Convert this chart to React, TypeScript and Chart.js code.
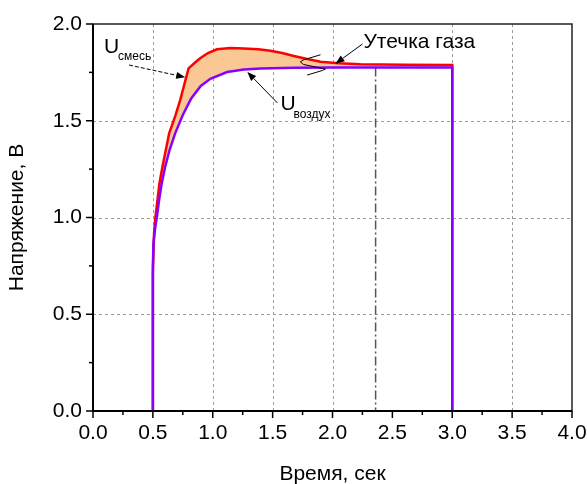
import React, { useEffect, useRef } from 'react';
import { Chart, registerables } from 'chart.js';

Chart.register(...registerables);

// ---- data ----
const airX = [0.5, 0.5, 0.505, 0.52, 0.533, 0.552, 0.575, 0.603, 0.64, 0.686, 0.75, 0.82, 0.9, 0.98, 1.12, 1.26, 1.4, 1.68, 2.0, 2.5, 3.0, 3.0];
const airY = [0, 0.75, 0.87, 0.95, 1.0, 1.09, 1.18, 1.263, 1.35, 1.435, 1.53, 1.615, 1.68, 1.717, 1.752, 1.765, 1.77, 1.774, 1.775, 1.775, 1.775, 0];

const mixX = [0.5, 0.5, 0.51, 0.521, 0.555, 0.58, 0.636, 0.69, 0.728, 0.798, 0.85, 0.895, 0.96, 1.035, 1.15, 1.258, 1.38, 1.481, 1.58, 1.676, 1.78, 1.9, 2.05, 2.234, 2.6, 3.0, 3.0];
const mixY = [0, 0.71, 0.92, 1.0, 1.177, 1.263, 1.435, 1.53, 1.607, 1.771, 1.8, 1.823, 1.85, 1.869, 1.876, 1.874, 1.87, 1.862, 1.85, 1.835, 1.82, 1.805, 1.797, 1.792, 1.79, 1.788, 0];

const xMajor = [0, 0.5, 1.0, 1.5, 2.0, 2.5, 3.0, 3.5, 4.0];
const xMinor = [0.25, 0.75, 1.25, 1.75, 2.25, 2.75, 3.25, 3.75];
const yMajor = [0, 0.5, 1.0, 1.5, 2.0];
const yMinor = [0.25, 0.75, 1.25, 1.75];
const xGrid = [0.5, 1.0, 1.5, 2.0, 3.0, 3.5];
const yGrid = [0.5, 1.0, 1.5];

const leakX = 2.36;
const leakTop = 1.775;

const xTitle = 'Время, сек';
const yTitle = 'Напряжение, В';

// annotations in data coordinates
const mixLabel = { main: 'U', sub: 'смесь', x: 0.092, y: 1.85, subX: 0.209, subY: 1.814 };
const airLabel = { main: 'U', sub: 'воздух', x: 1.565, y: 1.556, subX: 1.674, subY: 1.514 };
const leakLabel = { text: 'Утечка газа', x: 2.259, y: 1.876 };
const mixArrow = [0.301, 1.788, 0.77, 1.725];
const airArrow = [1.54, 1.592, 1.289, 1.752];
const leakArrow = [2.251, 1.897, 2.025, 1.795];
const bracketX = [1.9, 1.755, 1.732, 1.757, 1.941, 1.916, 1.788];
const bracketY = [1.841, 1.814, 1.804, 1.791, 1.767, 1.76, 1.736];

const FONT = "'Liberation Sans', Arial, sans-serif";

function drawArrow(ctx: CanvasRenderingContext2D, x1: number, y1: number, x2: number, y2: number, dashed: boolean) {
  const ang = Math.atan2(y2 - y1, x2 - x1);
  const hl = 9, hw = 3.5;
  const bx = x2 - hl * Math.cos(ang), by = y2 - hl * Math.sin(ang);
  ctx.save();
  ctx.strokeStyle = '#000';
  ctx.fillStyle = '#000';
  ctx.lineWidth = 1;
  ctx.setLineDash(dashed ? [4, 2] : []);
  ctx.beginPath();
  ctx.moveTo(x1, y1);
  ctx.lineTo(bx, by);
  ctx.stroke();
  ctx.setLineDash([]);
  ctx.beginPath();
  ctx.moveTo(x2, y2);
  ctx.lineTo(bx + hw * Math.sin(ang), by - hw * Math.cos(ang));
  ctx.lineTo(bx - hw * Math.sin(ang), by + hw * Math.cos(ang));
  ctx.closePath();
  ctx.fill();
  ctx.restore();
}

const overlay = {
  id: 'overlay',
  beforeDatasetsDraw(chart: any) {
    const { ctx, chartArea: a, scales } = chart;
    const x = scales.x, y = scales.y;
    ctx.save();
    ctx.strokeStyle = '#9a9a9a';
    ctx.lineWidth = 1;
    ctx.setLineDash([3, 3]);
    xGrid.forEach((v) => {
      const px = Math.round(x.getPixelForValue(v)) + 0.5;
      ctx.beginPath();
      ctx.moveTo(px, a.top);
      ctx.lineTo(px, a.bottom);
      ctx.stroke();
    });
    yGrid.forEach((v) => {
      const py = Math.round(y.getPixelForValue(v)) + 0.5;
      ctx.beginPath();
      ctx.moveTo(a.left, py);
      ctx.lineTo(a.right, py);
      ctx.stroke();
    });
    ctx.strokeStyle = '#555';
    ctx.lineWidth = 1.5;
    ctx.setLineDash([9, 3, 2, 3]);
    const lx = x.getPixelForValue(leakX);
    ctx.beginPath();
    ctx.moveTo(lx, y.getPixelForValue(leakTop));
    ctx.lineTo(lx, y.getPixelForValue(0));
    ctx.stroke();
    ctx.restore();
  },
  afterDatasetsDraw(chart: any) {
    const { ctx, chartArea: a, scales } = chart;
    const x = scales.x, y = scales.y;
    ctx.save();
    // frame
    ctx.strokeStyle = '#222';
    ctx.lineWidth = 1.5;
    ctx.strokeRect(a.left, a.top, a.right - a.left, a.bottom - a.top);
    ctx.strokeStyle = '#000';
    ctx.lineWidth = 2;
    ctx.beginPath();
    ctx.moveTo(a.left, a.top);
    ctx.lineTo(a.left, a.bottom);
    ctx.lineTo(a.right, a.bottom);
    ctx.stroke();
    // ticks
    ctx.lineWidth = 1.5;
    const tick = (vals: number[], len: number) => {
      vals.forEach((v) => {
        const px = x.getPixelForValue(v);
        ctx.beginPath();
        ctx.moveTo(px, a.bottom);
        ctx.lineTo(px, a.bottom + len);
        ctx.stroke();
      });
    };
    const ytick = (vals: number[], len: number) => {
      vals.forEach((v) => {
        const py = y.getPixelForValue(v);
        ctx.beginPath();
        ctx.moveTo(a.left, py);
        ctx.lineTo(a.left - len, py);
        ctx.stroke();
      });
    };
    tick(xMajor, 7);
    tick(xMinor, 4);
    ytick(yMajor, 7);
    ytick(yMinor, 4);

    // bracket scribble
    ctx.strokeStyle = '#000';
    ctx.lineWidth = 1;
    ctx.beginPath();
    bracketX.forEach((v, i) => {
      const px = x.getPixelForValue(v), py = y.getPixelForValue(bracketY[i]);
      if (i === 0) ctx.moveTo(px, py); else ctx.lineTo(px, py);
    });
    ctx.stroke();

    // arrows
    const arr = (p: number[], dashed: boolean) =>
      drawArrow(ctx, x.getPixelForValue(p[0]), y.getPixelForValue(p[1]), x.getPixelForValue(p[2]), y.getPixelForValue(p[3]), dashed);
    arr(mixArrow, true);
    arr(airArrow, false);
    arr(leakArrow, false);

    // labels
    ctx.fillStyle = '#000';
    ctx.textAlign = 'left';
    ctx.textBaseline = 'alphabetic';
    const lab = (l: any) => {
      ctx.font = `21px ${FONT}`;
      ctx.fillText(l.main, x.getPixelForValue(l.x), y.getPixelForValue(l.y));
      ctx.font = `12px ${FONT}`;
      ctx.fillText(l.sub, x.getPixelForValue(l.subX), y.getPixelForValue(l.subY));
    };
    lab(mixLabel);
    lab(airLabel);
    ctx.font = `21px ${FONT}`;
    ctx.fillText(leakLabel.text, x.getPixelForValue(leakLabel.x), y.getPixelForValue(leakLabel.y));
    ctx.restore();
  },
};

export default function App() {
  const ref = useRef<HTMLCanvasElement | null>(null);
  useEffect(() => {
    if (!ref.current) return;
    const mixData = mixX.map((v, i) => ({ x: v, y: mixY[i] }));
    const airData = airX.map((v, i) => ({ x: v, y: airY[i] }));
    const chart = new Chart(ref.current, {
      type: 'line',
      data: {
        datasets: [
          {
            label: 'U смесь',
            data: mixData,
            borderColor: '#ff0000',
            borderWidth: 2.5,
            pointRadius: 0,
            tension: 0,
            order: 1,
            fill: { target: 1, above: '#f9c895', below: '#f9c895' },
          } as any,
          {
            label: 'U воздух',
            data: airData,
            borderColor: '#8a00ff',
            borderWidth: 2.5,
            pointRadius: 0,
            tension: 0,
            order: 0,
            fill: false,
          },
        ],
      },
      options: {
        responsive: false,
        animation: false,
        parsing: false as any,
        layout: { padding: { top: 24, right: 16, left: 0, bottom: 0 } },
        plugins: { legend: { display: false }, tooltip: { enabled: false } },
        scales: {
          x: {
            type: 'linear',
            min: 0,
            max: 4,
            afterBuildTicks: (s: any) => {
              s.ticks = xMajor.map((v) => ({ value: v }));
            },
            afterFit: (s: any) => {
              s.height = 73;
              s.paddingLeft = 0;
              s.paddingRight = 0;
            },
            ticks: {
              font: { family: FONT, size: 21 },
              color: '#000',
              padding: 10,
              maxRotation: 0,
              autoSkip: false,
              callback: (v: any) => Number(v).toFixed(1),
            },
            grid: { display: false, drawTicks: false },
            border: { display: false },
            title: {
              display: true,
              text: xTitle,
              color: '#000',
              font: { family: FONT, size: 21, lineHeight: 0.9 },
              padding: { top: 0, bottom: 0 },
            },
          },
          y: {
            type: 'linear',
            min: 0,
            max: 2,
            afterBuildTicks: (s: any) => {
              s.ticks = yMajor.map((v) => ({ value: v }));
            },
            afterFit: (s: any) => {
              s.width = 93;
            },
            ticks: {
              font: { family: FONT, size: 21 },
              color: '#000',
              padding: 11,
              autoSkip: false,
              callback: (v: any) => Number(v).toFixed(1),
            },
            grid: { display: false, drawTicks: false },
            border: { display: false },
            title: {
              display: true,
              text: yTitle,
              color: '#000',
              font: { family: FONT, size: 21, lineHeight: 1.2 },
              padding: { top: 5, bottom: 0 },
            },
          },
        },
      },
      plugins: [overlay],
    });
    return () => chart.destroy();
  }, []);
  return (
    <div style={{ position: 'absolute', left: 0, top: 0, width: 588, height: 484, background: '#fff' }}>
      <canvas ref={ref} width={588} height={484} style={{ display: 'block' }} />
    </div>
  );
}
